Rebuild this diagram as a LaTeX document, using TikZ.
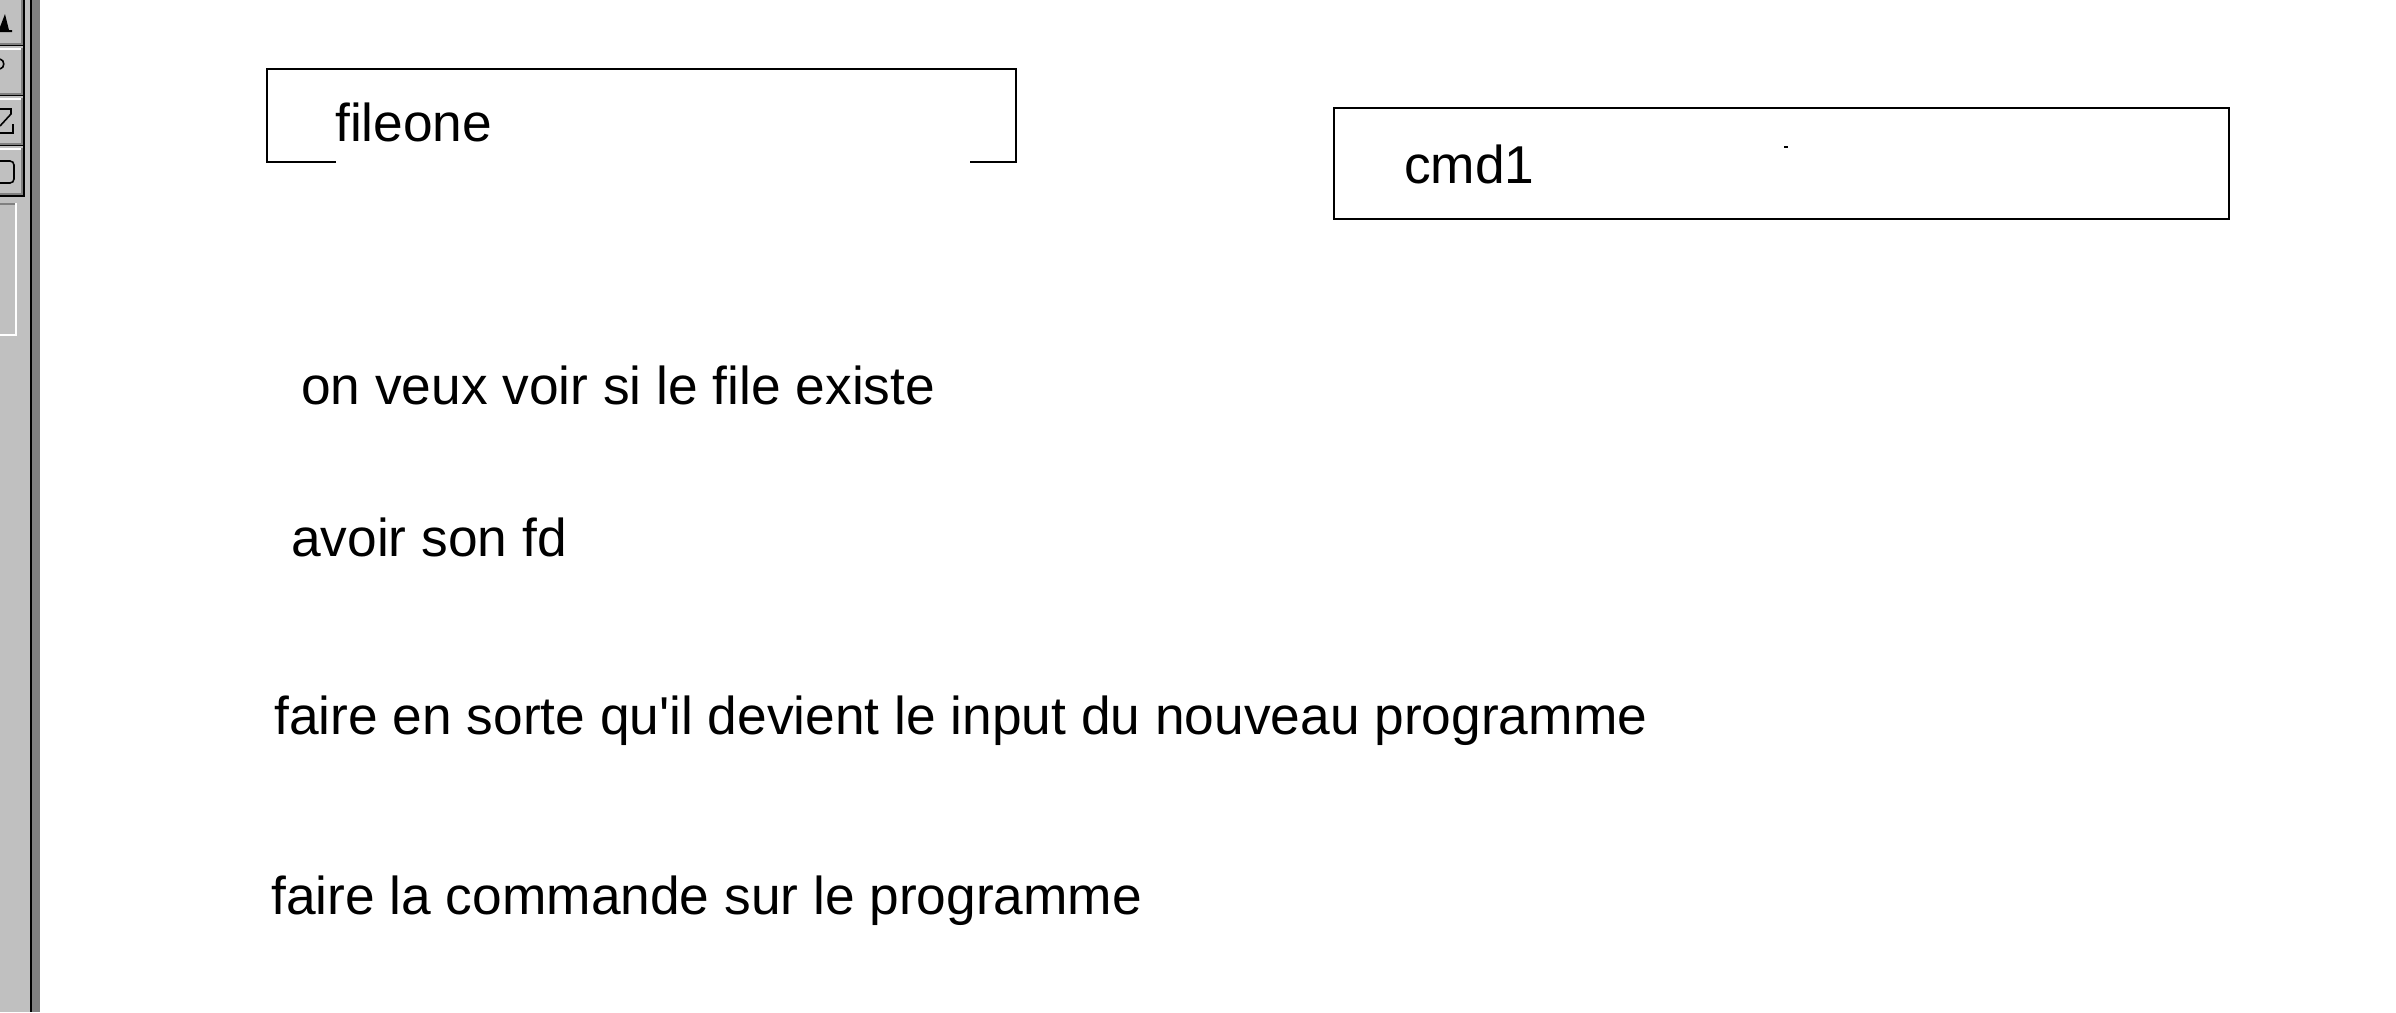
\documentclass[tikz,border=0pt]{standalone}
\usepackage{fontspec}
\setmainfont{Liberation Sans}
\usetikzlibrary{positioning}
\definecolor{panelgrey}{RGB}{192,192,192}
\definecolor{shadegrey}{RGB}{128,128,128}
\tikzset{
	field/.style={rectangle, inner sep=0pt, anchor=north west},
	frame/.style={line width=2pt},
	note/.style={inner sep=0pt, anchor=base west, font=\fontsize{53.3}{64}\selectfont},
	glyph/.style={line width=1.6pt}
}

\begin{document}
\begin{tikzpicture}[x=1pt, y=-1pt]
		\useasboundingbox (0,0) rectangle (2396,1012);
		
		% Window strip on the left
		\fill[panelgrey] (0,0) rectangle (31,1012);
		\fill[black] (30,0) rectangle (32,1012);
		\fill[shadegrey] (32,0) rectangle (40,1012);
		
		% Tool buttons
		\foreach \t in {-2,48,98,148} {
			\fill[white] (0,\t) rectangle (22,\t+2);
			\fill[shadegrey] (21,\t) rectangle (23,\t+47);
			\fill[shadegrey] (0,\t+45) rectangle (23,\t+47);
			\fill[black] (0,\t+47) rectangle (25,\t+48);
		}
		\fill[black] (23,0) rectangle (25,197);
		\fill[black] (0,195) rectangle (25,197);
		
		% Button glyphs (cut off by the window edge)
		\fill (0,32) -- (12,32) -- (12,30) -- (9,30) -- (5,14) -- (0,27) -- cycle;
		\draw[glyph] (0,59) .. controls (5,60) and (5,68) .. (0,69);
		\draw[glyph] (0,109) -- (11,109) -- (11,114) -- (0,126);
		\draw[glyph] (0,133) -- (13,133) -- (13,124);
		\draw[glyph, rounded corners=4pt] (0,161) -- (14,161) -- (14,183) -- (0,183);
		
		% Sunken panel
		\fill[shadegrey] (0,203) rectangle (16,205);
		\fill[white] (15,203) rectangle (17,336);
		\fill[white] (0,334) rectangle (17,336);
		
		% Input boxes
		\node[field, minimum width=749pt, minimum height=93pt] (fileone box) at (267,69) {};
		\node[field, draw, frame, minimum width=895pt, minimum height=111pt] (cmd box) at (1333,107) {};
		\draw[frame] ([xshift=69pt]fileone box.south west) -- (fileone box.south west) -- (fileone box.north west)
			-- (fileone box.north east) -- (fileone box.south east) -- ([xshift=-46pt]fileone box.south east);
		\fill (1784,146) rectangle (1788,148);
		
		% Texts
		\node[note] (fileone) at (335,141) {fileone};
		\node[note] (cmd1) at (1404,183) {cmd1};
		\node[note] (exists) at (301,404) {on veux voir si le file existe};
		\node[note] (fd) at (291,556) {avoir son fd};
		\node[note] (input) at (274,734) {faire en sorte qu\textquotesingle il devient le input du nouveau programme};
		\node[note] (run) at (271,914) {faire la commande sur le programme};
		
	\end{tikzpicture}
\end{document}
